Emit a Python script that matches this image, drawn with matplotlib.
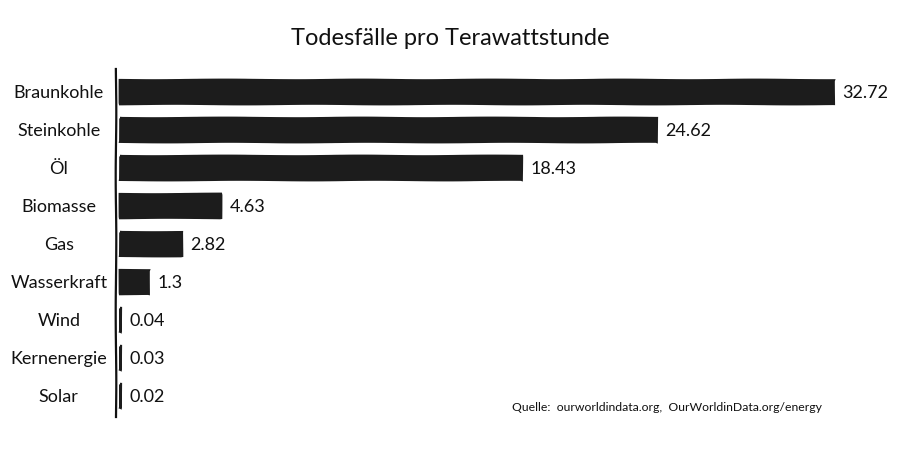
import matplotlib
matplotlib.use("Agg")
import matplotlib.pyplot as plt

# Todesfälle pro TWh nach Energiequelle
quellen = ["Braunkohle", "Steinkohle", "Öl", "Biomasse", "Gas",
           "Wasserkraft", "Wind", "Kernenergie", "Solar"]
werte = [32.72, 24.62, 18.43, 4.63, 2.82, 1.3, 0.04, 0.03, 0.02]
wert_texte = ["32.72", "24.62", "18.43", "4.63", "2.82", "1.3", "0.04", "0.03", "0.02"]

titel = "Todesfälle pro Terawattstunde"
quelle = "Quelle:  ourworldindata.org,  OurWorldinData.org/energy"

with plt.xkcd(scale=0.3, length=150, randomness=2):
    plt.rcParams['font.family'] = ['Lato', 'DejaVu Sans']
    plt.rcParams['path.effects'] = []

    fig = plt.figure(figsize=(9, 4.77), dpi=100)
    fig.patch.set_facecolor("white")
    ax = fig.add_axes([0.129, 0.124, 0.86, 0.729])

    pos = list(range(len(quellen)))
    ax.barh(pos, werte, height=0.63, color="#1c1c1c", edgecolor="#1c1c1c",
            linewidth=1.6)

    for p, w, t in zip(pos, werte, wert_texte):
        ax.annotate(t, (w, p), xytext=(6, 0), textcoords="offset points",
                    va="center", ha="left", fontsize=13, color="#111")

    ax.set_ylim(8.55, -0.6)
    ax.set_xlim(-0.2, 35.3)
    ax.set_yticks([])
    ax.set_xticks([])
    for s in ["top", "right", "bottom"]:
        ax.spines[s].set_visible(False)
    ax.spines["left"].set_linewidth(1.6)
    ax.spines["left"].set_color("#111")

    for p, q in zip(pos, quellen):
        ax.text(-0.074, p, q, transform=ax.get_yaxis_transform(),
                ha="center", va="center", fontsize=13, color="#111")

    fig.text(0.5, 0.92, titel, ha="center", va="center", fontsize=17, color="#111")
    fig.text(0.569, 0.145, quelle, ha="left", va="center", fontsize=8.8, color="#111")

    fig.savefig("out.png", dpi=100, facecolor="white")
